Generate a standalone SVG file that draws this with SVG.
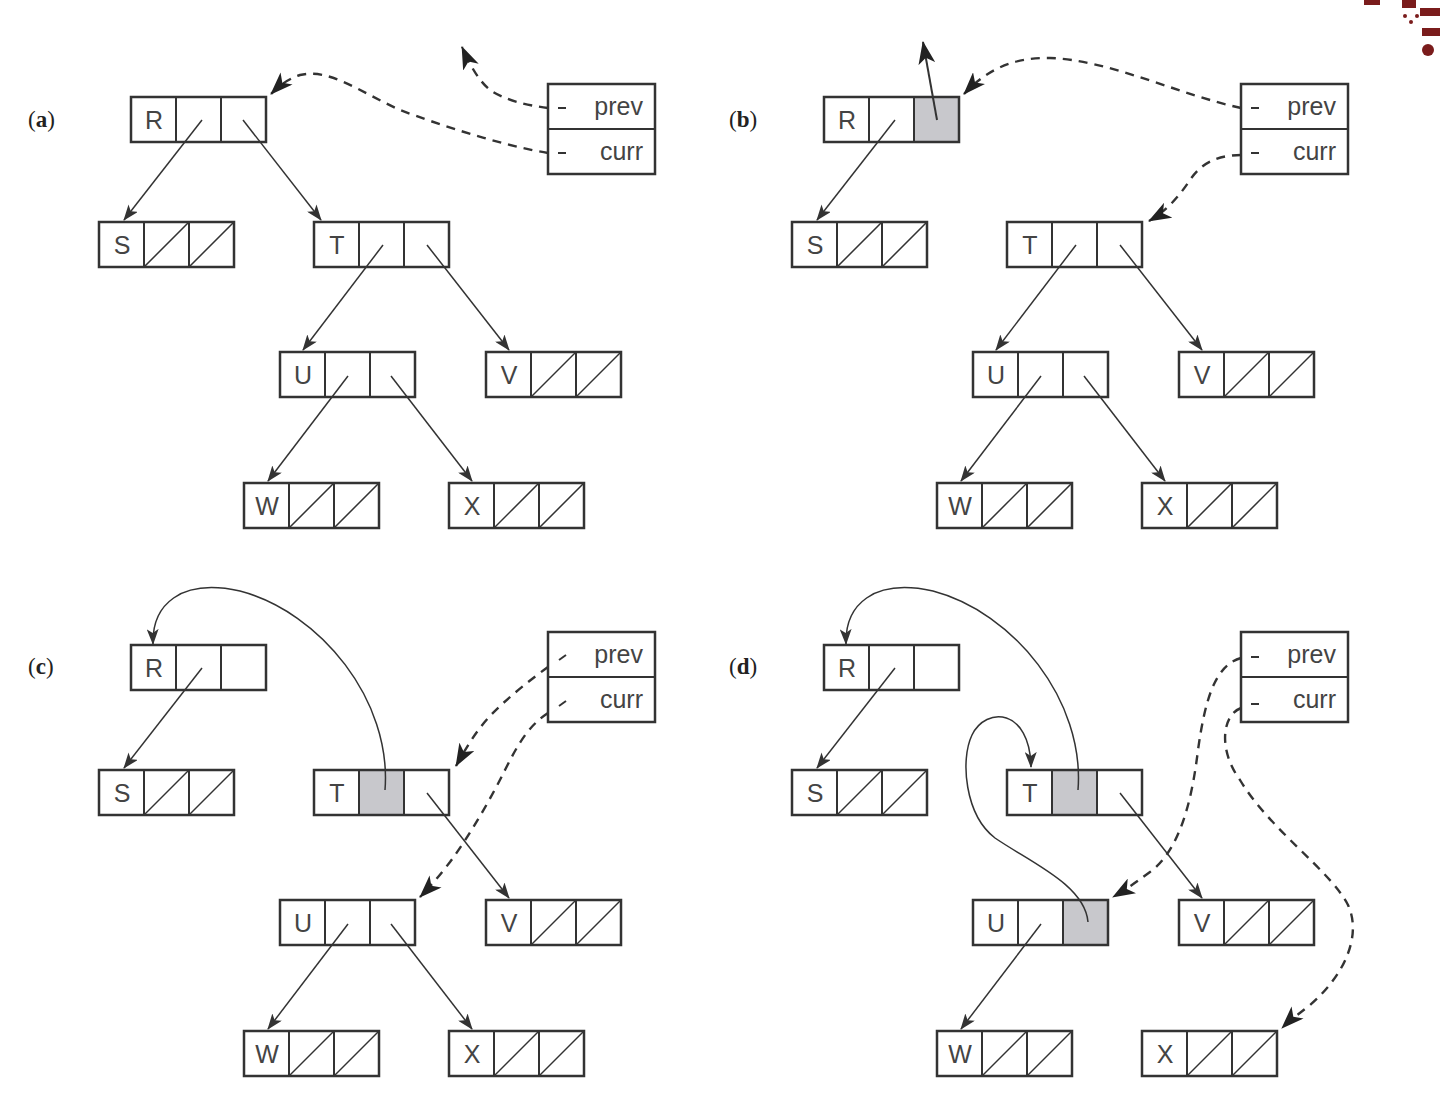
<svg xmlns="http://www.w3.org/2000/svg" width="1440" height="1096" viewBox="0 0 1440 1096">
<style>
.box{fill:none;stroke:#333;stroke-width:2.5}
.dv{stroke:#333;stroke-width:2}
.nul{stroke:#333;stroke-width:1.5}
.sh{fill:#c8c8cc;stroke:none}
.lt{font-family:"Liberation Sans",Arial,sans-serif;font-size:25px;fill:#444;text-anchor:middle}
.vt{font-family:"Liberation Sans",Arial,sans-serif;font-size:25px;fill:#444;text-anchor:end}
.pl{font-family:"Liberation Serif","Times New Roman",serif;font-size:23px;fill:#222}
.ptr{stroke:#333;stroke-width:1.5;fill:none;marker-end:url(#ah)}
.up{stroke:#333;stroke-width:2;fill:none;marker-end:url(#dh)}
.dsh{stroke:#333;stroke-width:2.4;stroke-dasharray:9 7;fill:none;marker-end:url(#dh)}
.tick{stroke:#333;stroke-width:2}
</style>
<defs>
<marker id="ah" markerUnits="userSpaceOnUse" markerWidth="16" markerHeight="12" refX="15" refY="6" orient="auto"><path d="M0,0 L16,6 L0,12 L4,6 z" fill="#333"/></marker>
<marker id="dh" markerUnits="userSpaceOnUse" markerWidth="23" markerHeight="17" refX="22" refY="8.5" orient="auto"><path d="M0,0 L23,8.5 L0,17 L6,8.5 z" fill="#222"/></marker>
<g id="cells"><rect class="box" x="0" y="0" width="135" height="45"/><line class="dv" x1="45" y1="0" x2="45" y2="45"/><line class="dv" x1="90" y1="0" x2="90" y2="45"/></g>
<g id="leaf"><line class="nul" x1="45" y1="45" x2="90" y2="0"/><line class="nul" x1="90" y1="45" x2="135" y2="0"/><use href="#cells"/></g>
<g id="pc"><rect class="box" x="0" y="0" width="107" height="90"/><line class="dv" x1="0" y1="45" x2="107" y2="45"/><text class="vt" x="95" y="31">prev</text><text class="vt" x="95" y="76">curr</text></g>
</defs>

<!-- panel labels -->
<text class="pl" x="28" y="127">(<tspan font-weight="bold">a</tspan>)</text>
<text class="pl" x="729" y="127">(<tspan font-weight="bold">b</tspan>)</text>
<text class="pl" x="28" y="674">(<tspan font-weight="bold">c</tspan>)</text>
<text class="pl" x="729" y="674">(<tspan font-weight="bold">d</tspan>)</text>

<!-- Panel (a) nodes -->
<g id="a-R" transform="translate(131,97)"><use href="#cells"/><text class="lt" x="23" y="32">R</text></g>
<g id="a-S" transform="translate(99,222)"><use href="#leaf"/><text class="lt" x="23" y="32">S</text></g>
<g id="a-T" transform="translate(314,222)"><use href="#cells"/><text class="lt" x="23" y="32">T</text></g>
<g id="a-U" transform="translate(280,352)"><use href="#cells"/><text class="lt" x="23" y="32">U</text></g>
<g id="a-V" transform="translate(486,352)"><use href="#leaf"/><text class="lt" x="23" y="32">V</text></g>
<g id="a-W" transform="translate(244,483)"><use href="#leaf"/><text class="lt" x="23" y="32">W</text></g>
<g id="a-X" transform="translate(449,483)"><use href="#leaf"/><text class="lt" x="23" y="32">X</text></g>
<g id="a-pc" transform="translate(548,84)"><use href="#pc"/></g>

<!-- Panel (b) nodes -->
<g id="b-R" transform="translate(824,97)"><rect class="sh" x="90" y="0" width="45" height="45"/><use href="#cells"/><text class="lt" x="23" y="32">R</text></g>
<g id="b-S" transform="translate(792,222)"><use href="#leaf"/><text class="lt" x="23" y="32">S</text></g>
<g id="b-T" transform="translate(1007,222)"><use href="#cells"/><text class="lt" x="23" y="32">T</text></g>
<g id="b-U" transform="translate(973,352)"><use href="#cells"/><text class="lt" x="23" y="32">U</text></g>
<g id="b-V" transform="translate(1179,352)"><use href="#leaf"/><text class="lt" x="23" y="32">V</text></g>
<g id="b-W" transform="translate(937,483)"><use href="#leaf"/><text class="lt" x="23" y="32">W</text></g>
<g id="b-X" transform="translate(1142,483)"><use href="#leaf"/><text class="lt" x="23" y="32">X</text></g>
<g id="b-pc" transform="translate(1241,84)"><use href="#pc"/></g>

<!-- Panel (c) nodes -->
<g id="c-R" transform="translate(131,645)"><use href="#cells"/><text class="lt" x="23" y="32">R</text></g>
<g id="c-S" transform="translate(99,770)"><use href="#leaf"/><text class="lt" x="23" y="32">S</text></g>
<g id="c-T" transform="translate(314,770)"><rect class="sh" x="45" y="0" width="45" height="45"/><use href="#cells"/><text class="lt" x="23" y="32">T</text></g>
<g id="c-U" transform="translate(280,900)"><use href="#cells"/><text class="lt" x="23" y="32">U</text></g>
<g id="c-V" transform="translate(486,900)"><use href="#leaf"/><text class="lt" x="23" y="32">V</text></g>
<g id="c-W" transform="translate(244,1031)"><use href="#leaf"/><text class="lt" x="23" y="32">W</text></g>
<g id="c-X" transform="translate(449,1031)"><use href="#leaf"/><text class="lt" x="23" y="32">X</text></g>
<g id="c-pc" transform="translate(548,632)"><use href="#pc"/></g>

<!-- Panel (d) nodes -->
<g id="d-R" transform="translate(824,645)"><use href="#cells"/><text class="lt" x="23" y="32">R</text></g>
<g id="d-S" transform="translate(792,770)"><use href="#leaf"/><text class="lt" x="23" y="32">S</text></g>
<g id="d-T" transform="translate(1007,770)"><rect class="sh" x="45" y="0" width="45" height="45"/><use href="#cells"/><text class="lt" x="23" y="32">T</text></g>
<g id="d-U" transform="translate(973,900)"><rect class="sh" x="90" y="0" width="45" height="45"/><use href="#cells"/><text class="lt" x="23" y="32">U</text></g>
<g id="d-V" transform="translate(1179,900)"><use href="#leaf"/><text class="lt" x="23" y="32">V</text></g>
<g id="d-W" transform="translate(937,1031)"><use href="#leaf"/><text class="lt" x="23" y="32">W</text></g>
<g id="d-X" transform="translate(1142,1031)"><use href="#leaf"/><text class="lt" x="23" y="32">X</text></g>
<g id="d-pc" transform="translate(1241,632)"><use href="#pc"/></g>

<g id="connectors">
<!-- (a) -->
<path class="ptr" d="M202,120 L124,220"/>
<path class="ptr" d="M243,120 L321,220"/>
<path class="ptr" d="M383,245 L303,350"/>
<path class="ptr" d="M427,245 L509,350"/>
<path class="ptr" d="M348,376 L268,481"/>
<path class="ptr" d="M391,376 L472,481"/>
<line class="tick" x1="558" y1="108" x2="566" y2="108"/>
<line class="tick" x1="558" y1="153" x2="566" y2="153"/>
<path class="dsh" d="M548,108 C 525,105 505,100 490,90 C 478,80 470,65 462,47"/>
<path class="dsh" d="M548,153 C 500,145 440,125 400,110 C 360,92 330,68 300,75 C 288,79 280,85 271,94"/>
<!-- (b) -->
<path class="ptr" d="M895,120 L817,220"/>
<path class="up" d="M937,120 L923,42"/>
<path class="ptr" d="M1076,245 L996,350"/>
<path class="ptr" d="M1120,245 L1202,350"/>
<path class="ptr" d="M1041,376 L961,481"/>
<path class="ptr" d="M1084,376 L1165,481"/>
<line class="tick" x1="1251" y1="108" x2="1259" y2="108"/>
<line class="tick" x1="1251" y1="153" x2="1259" y2="153"/>
<path class="dsh" d="M1241,108 C 1180,95 1110,60 1050,58 C 1010,57 985,72 964,94"/>
<path class="dsh" d="M1241,155 C 1215,155 1200,165 1190,180 C 1178,198 1165,212 1149,221"/>
<!-- (c) -->
<path class="ptr" d="M202,668 L124,768"/>
<path class="ptr" d="M385,790 C 392,700 320,612 240,591 C 180,578 152,605 153,644"/>
<path class="ptr" d="M427,793 L509,898"/>
<path class="ptr" d="M348,924 L268,1029"/>
<path class="ptr" d="M391,924 L472,1029"/>
<line class="tick" x1="559" y1="660" x2="566" y2="655"/>
<line class="tick" x1="559" y1="706" x2="566" y2="701"/>
<path class="dsh" d="M548,667 C 530,680 505,700 490,716 C 475,732 465,750 456,766"/>
<path class="dsh" d="M548,713 C 530,725 520,740 505,770 C 490,800 470,835 450,862 C 440,875 430,887 420,897"/>
<!-- (d) -->
<path class="ptr" d="M895,668 L817,768"/>
<path class="ptr" d="M1078,790 C 1085,700 1013,612 933,591 C 873,578 845,605 846,644"/>
<path class="ptr" d="M1088,922 C 1085,885 1030,862 995,838 C 965,815 960,760 972,735 C 986,706 1030,708 1031,767"/>
<path class="ptr" d="M1120,793 L1202,898"/>
<path class="ptr" d="M1041,924 L961,1029"/>
<line class="tick" x1="1251" y1="657" x2="1259" y2="657"/>
<line class="tick" x1="1251" y1="704" x2="1259" y2="704"/>
<path class="dsh" d="M1241,658 C 1215,665 1205,700 1198,750 C 1192,800 1180,850 1150,872 C 1135,883 1125,890 1113,897"/>
<path class="dsh" d="M1241,708 C 1222,715 1218,750 1240,780 C 1270,830 1330,870 1348,905 C 1362,935 1345,975 1310,1005 C 1300,1013 1290,1020 1282,1028"/>
</g>

<!-- corner decoration -->
<g fill="#7a1c1c">
<rect x="1364" y="0" width="16" height="5"/>
<rect x="1402" y="0" width="14" height="8"/>
<circle cx="1405" cy="16" r="2"/><circle cx="1417" cy="16" r="2"/><circle cx="1411" cy="22" r="2"/>
<rect x="1420" y="8" width="20" height="8"/>
<rect x="1422" y="28" width="18" height="8"/>
<circle cx="1428" cy="50" r="6"/>
</g>
</svg>
